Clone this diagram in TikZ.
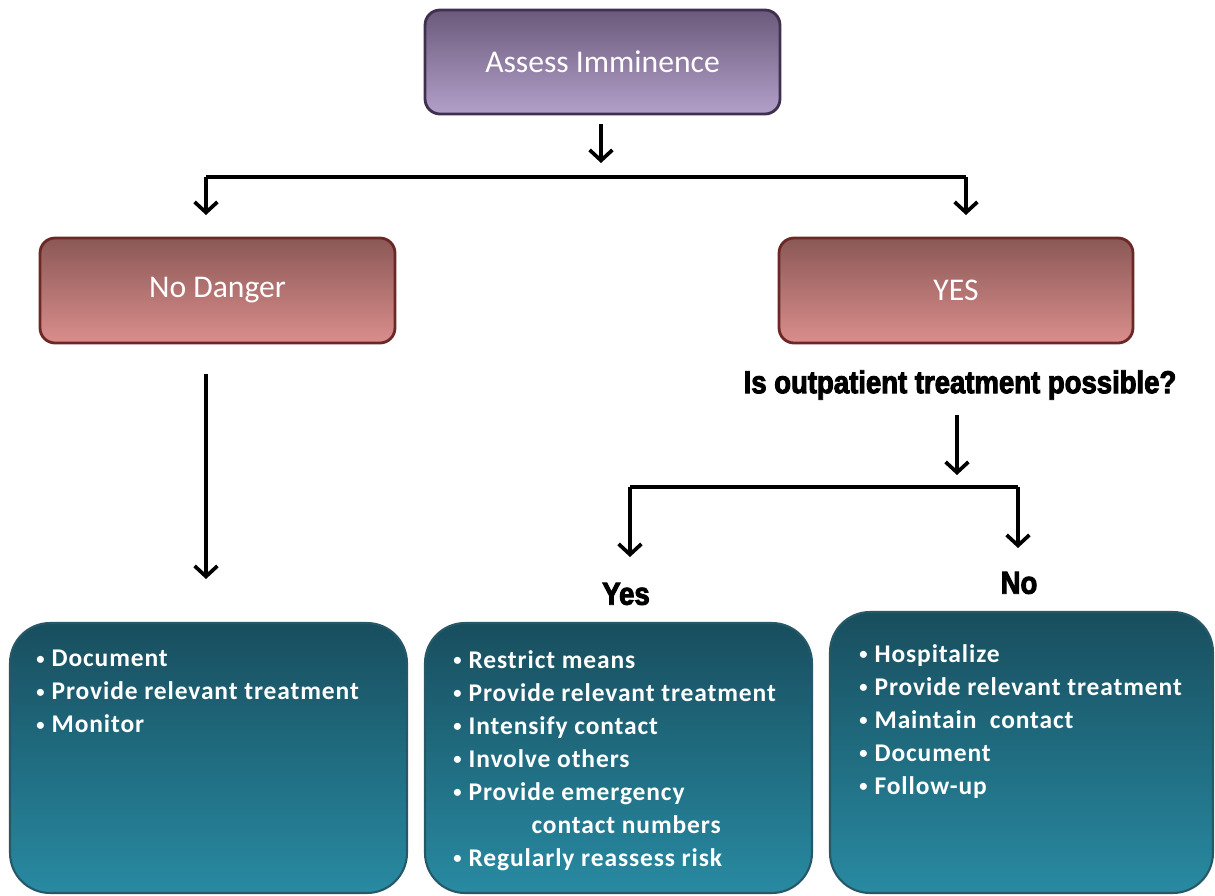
\documentclass[tikz,border=0pt]{standalone}
\usepackage{fontspec}
\setmainfont{Carlito}
\newfontfamily\listfont[LetterSpace=3.5]{Carlito}
\newfontfamily\askfont[FakeStretch=0.87,FakeBold=3]{Liberation Sans Bold}
\usetikzlibrary{arrows.meta,calc}

\definecolor{purpTop}{RGB}{108,90,124}
\definecolor{purpBot}{RGB}{178,160,202}
\definecolor{purpEdge}{RGB}{62,48,78}
\definecolor{redTop}{RGB}{138,88,86}
\definecolor{redBot}{RGB}{218,142,140}
\definecolor{redEdge}{RGB}{108,40,38}
\definecolor{tealTop}{RGB}{24,78,94}
\definecolor{tealBot}{RGB}{40,138,162}
\definecolor{tealEdge}{RGB}{38,88,104}

% small raised bullet used in the action lists
\newcommand{\itemdot}{\raisebox{0.22ex}{\scalebox{0.65}{•}}\hspace{4pt}}

\tikzset{
  headbox/.style={rounded corners=0.3cm, line width=1.6pt, inner sep=0pt,
    text=white, font=\fontsize{18}{21}\selectfont},
  purplebox/.style={headbox, draw=purpEdge, top color=purpTop, bottom color=purpBot},
  redbox/.style={headbox, draw=redEdge, top color=redTop, bottom color=redBot},
  listbox/.style={rounded corners=0.8cm, line width=1.2pt, draw=tealEdge,
    top color=tealTop, bottom color=tealBot, inner sep=0pt},
  listtext/.style={anchor=north west, align=left, inner sep=0pt, text=white,
    font=\listfont\bfseries\fontsize{14.5}{18.8}\selectfont},
  asktext/.style={font=\askfont\fontsize{18}{20}\selectfont, inner sep=0pt},
  conn/.style={line width=2.1pt, -{Straight Barb[length=6pt,width=13pt,line width=2.1pt]}},
  bus/.style={line width=2.1pt}
}

\begin{document}
\begin{tikzpicture}[x=0.02cm, y=-0.02cm]
  \useasboundingbox (0,0) rectangle (1215,896);

  % decision boxes
  \node[purplebox, minimum width=7.1cm, minimum height=2.08cm] (assess) at (602.5,62) {Assess Imminence};
  \node[redbox, minimum width=7.1cm, minimum height=2.1cm] (nodanger) at (217.5,290.5) {No Danger};
  \node[redbox, minimum width=7.08cm, minimum height=2.1cm] (yes) at (956,290.5) {YES};

  % question and answers
  \node[asktext] (ask) at (960,385) {Is outpatient treatment possible?};
  \node[asktext] (ansyes) at (626,594) {Yes};
  \node[asktext] (ansno) at (1019,583) {No};

  % action boxes
  \node[listbox, minimum width=7.94cm, minimum height=5.4cm] (leftbox) at (208.5,758) {};
  \node[listbox, minimum width=7.74cm, minimum height=5.4cm] (midbox) at (618.5,758) {};
  \node[listbox, minimum width=7.66cm, minimum height=5.62cm] (rightbox) at (1021.5,752.5) {};

  \node[listtext] (leftlist) at (36,650) {%
    \itemdot Document\\
    \itemdot Provide relevant treatment\\
    \itemdot Monitor};
  \node[listtext] (midlist) at (453,650) {%
    \itemdot Restrict means\\
    \itemdot Provide relevant treatment\\
    \itemdot Intensify contact\\
    \itemdot Involve others\\
    \itemdot Provide emergency\\
    \hspace*{44.5pt}contact numbers\\
    \itemdot Regularly reassess risk};
  \node[listtext] (rightlist) at (859,644) {%
    \itemdot Hospitalize\\
    \itemdot Provide relevant treatment\\
    \itemdot Maintain\ \ contact\\
    \itemdot Document\\
    \itemdot Follow-up};

  % connector end points
  \coordinate (a0) at (601,124);
  \coordinate (a1) at (601,163);
  \coordinate (busL) at (206,177);
  \coordinate (busR) at (966,177);
  \coordinate (busLend) at (206,215);
  \coordinate (busRend) at (966,215);
  \coordinate (nd0) at (206,374);
  \coordinate (nd1) at (206,579);
  \coordinate (q0) at (957,415);
  \coordinate (q1) at (957,475);
  \coordinate (qL) at (630,487);
  \coordinate (qR) at (1018,487);
  \coordinate (qLend) at (630,557);
  \coordinate (qRend) at (1018,548);

  % connectors
  \draw[conn] (a0) -- (a1);
  \draw[bus] (busL) -- (busR);
  \draw[conn] (busL) -- (busLend);
  \draw[conn] (busR) -- (busRend);
  \draw[conn] (nd0) -- (nd1);
  \draw[conn] (q0) -- (q1);
  \draw[bus] (qL) -- (qR);
  \draw[conn] (qL) -- (qLend);
  \draw[conn] (qR) -- (qRend);
\end{tikzpicture}
\end{document}
